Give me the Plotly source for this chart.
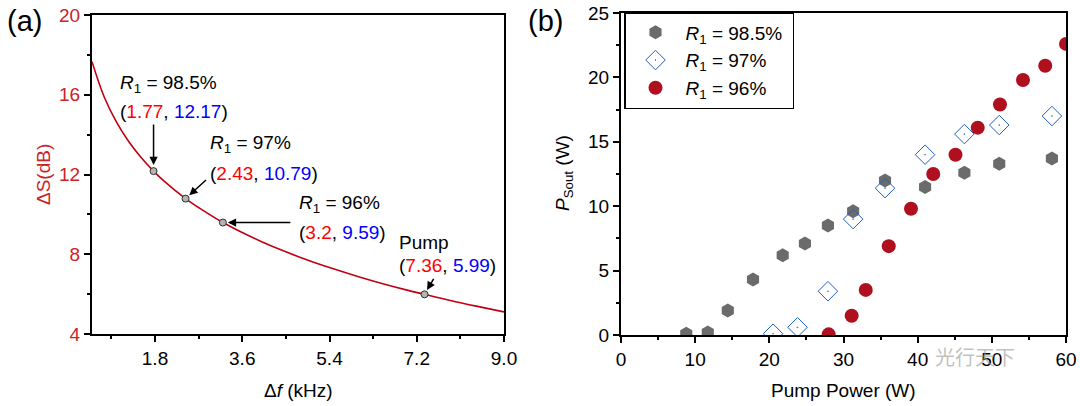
import plotly.graph_objects as go

# ---------------- Panel (a) data ----------------
df_curve = [0.5, 0.75, 1.0, 1.25, 1.5, 1.77, 2.0, 2.43, 2.75, 3.2, 3.6, 4.0, 4.5,
            5.0, 5.4, 6.0, 6.5, 7.0, 7.36, 8.0, 8.5, 9.0]
ds_curve = [17.66, 15.90, 14.65, 13.68, 12.89, 12.17, 11.64, 10.79, 10.26, 9.59, 9.09,
            8.63, 8.12, 7.66, 7.33, 6.87, 6.52, 6.20, 5.99, 5.62, 5.36, 5.11]
pt_df = [1.77, 2.43, 3.2, 7.36]
pt_ds = [12.17, 10.79, 9.59, 5.99]
pt_names = ["<i>R</i><sub>1</sub> = 98.5%", "<i>R</i><sub>1</sub> = 97%",
            "<i>R</i><sub>1</sub> = 96%", "Pump"]

# ---------------- Panel (b) data ----------------
p985_x = [8.8, 11.7, 14.4, 17.8, 21.8, 24.8, 27.9, 31.3, 35.6, 41.0, 46.3, 51.0, 58.1]
p985_y = [0.1, 0.2, 1.9, 4.3, 6.2, 7.1, 8.5, 9.6, 12.0, 11.5, 12.6, 13.3, 13.7]
p97_x = [20.5, 23.8, 27.9, 31.3, 35.6, 41.0, 46.3, 51.0, 58.1]
p97_y = [0.1, 0.6, 3.4, 9.0, 11.4, 14.0, 15.6, 16.3, 17.0]
p96_x = [28.0, 31.1, 33.0, 36.1, 39.1, 42.1, 45.1, 48.1, 51.1, 54.2, 57.2, 60.0]
p96_y = [0.05, 1.5, 3.5, 6.9, 9.8, 12.5, 14.0, 16.1, 17.9, 19.8, 20.9, 22.6]
legend_names = ["<i>R</i><sub>1</sub> = 98.5%\u00a0", "<i>R</i><sub>1</sub> = 97%",
                "<i>R</i><sub>1</sub> = 96%"]

W, H = 1080, 406
FONT = "Liberation Sans, Arial, sans-serif"
AXRED = "#cc2229"

def px(xp):
    return xp / W

def py(yp):
    return 1 - yp / H

fig = go.Figure()

# curve
fig.add_trace(go.Scatter(x=df_curve, y=ds_curve, mode="lines", line=dict(color="#c00010", width=1.6, shape="spline"),
                         xaxis="x", yaxis="y", showlegend=False))
fig.add_trace(go.Scatter(x=pt_df, y=pt_ds, mode="markers",
                         marker=dict(size=7, color="#b4b4b4", line=dict(color="#303030", width=1)),
                         xaxis="x", yaxis="y", showlegend=False))

# right panel
fig.add_trace(go.Scatter(x=p985_x, y=p985_y, mode="markers", name=legend_names[0],
                         marker=dict(symbol="hexagon", size=14, color="#6b6b6b"),
                         xaxis="x2", yaxis="y2", cliponaxis=True))
fig.add_trace(go.Scatter(x=p97_x, y=p97_y, mode="markers", name=legend_names[1],
                         marker=dict(symbol="diamond-open-dot", size=15, color="#1f5fbf",
                                     line=dict(width=1, color="#1f5fbf")),
                         xaxis="x2", yaxis="y2", cliponaxis=True))
fig.add_trace(go.Scatter(x=p96_x, y=p96_y, mode="markers", name=legend_names[2],
                         marker=dict(symbol="circle", size=14, color="#b0101e"),
                         xaxis="x2", yaxis="y2", cliponaxis=True))

axis_common = dict(showline=True, linecolor="black", linewidth=2, mirror=True,
                   ticks="outside", tickwidth=2, tickcolor="black", ticklen=6,
                   showgrid=False, zeroline=False, automargin=False,
                   ticklabeloverflow="allow")

fig.update_layout(
    width=W, height=H, margin=dict(l=0, r=0, t=0, b=0, autoexpand=False),
    paper_bgcolor="white", plot_bgcolor="white",
    font=dict(family=FONT, size=19, color="black"),
    xaxis=dict(domain=[px(92), px(504)], range=[0.5, 9.0], tickvals=[1.8, 3.6, 5.4, 7.2, 9.0],
               ticktext=["1.8", "3.6", "5.4", "7.2", "9.0"],
               minor=dict(dtick=0.9, tick0=0, ticks="outside", ticklen=3, tickwidth=1.5, tickcolor="black"),
               anchor="y", **axis_common),
    yaxis=dict(domain=[py(334), py(15)], range=[4, 20], dtick=4, tick0=0,
               tickfont=dict(color=AXRED),
               minor=dict(dtick=2, tick0=0, ticks="outside", ticklen=3, tickwidth=1.5, tickcolor="black"),
               anchor="x", **axis_common),
    xaxis2=dict(domain=[px(621), px(1066)], range=[0, 60], dtick=10, tick0=0,
                minor=dict(dtick=5, tick0=0, ticks="outside", ticklen=3, tickwidth=1.5, tickcolor="black"),
                anchor="y2", **axis_common),
    yaxis2=dict(domain=[py(335), py(13)], range=[0, 25], dtick=5, tick0=0,
                minor=dict(dtick=2.5, tick0=0, ticks="outside", ticklen=3, tickwidth=1.5, tickcolor="black"),
                anchor="x2", **axis_common),
    legend=dict(x=px(624), y=py(12), xanchor="left", yanchor="top",
                bordercolor="black", borderwidth=1.5, bgcolor="white",
                font=dict(size=19), tracegroupgap=0, itemwidth=50),
)

ann = []
# arrows for panel (a)
arrow_offsets = [(0, -48, 6), (22, -20, 5), (69, 0, 5), (10, -17, 5)]
for (xv, yv), (ax, ay, st) in zip(zip(pt_df, pt_ds), arrow_offsets):
    ann.append(dict(x=xv, y=yv, xref="x", yref="y", ax=ax, ay=ay, text="", showarrow=True,
                    arrowhead=2, arrowsize=1.1, arrowwidth=1.5, arrowcolor="black", standoff=st))

def coord_text(a, b):
    return ("(<span style='color:#ff0000'>%s</span>, <span style='color:#0000ff'>%s</span>)" % (a, b))

labels_pos = [(118, 84, 111), (208, 144, 173), (297, 204, 232), (397, 242, 265)]
coord_strs = [("1.77", "12.17"), ("2.43", "10.79"), ("3.2", "9.59"), ("7.36", "5.99")]
for name, (xl, y1, y2), (a, b) in zip(pt_names, labels_pos, coord_strs):
    ann.append(dict(x=px(xl), y=py(y1), xref="paper", yref="paper", text=name, showarrow=False,
                    xanchor="left", yanchor="middle", font=dict(size=19, color="black")))
    ann.append(dict(x=px(xl), y=py(y2), xref="paper", yref="paper", text=coord_text(a, b), showarrow=False,
                    xanchor="left", yanchor="middle", font=dict(size=19, color="black")))

def ctext(xp, yp, text, size=19, color="black", angle=0, family=None):
    f = dict(size=size, color=color)
    if family:
        f["family"] = family
    return dict(x=px(xp), y=py(yp), xref="paper", yref="paper", text=text, textangle=angle,
                showarrow=False, xanchor="center", yanchor="middle", font=f)

# axis titles
ann.append(ctext(43, 175, "ΔS(dB)", color=AXRED, angle=-90))
ann.append(ctext(298, 390, "Δ<i>f</i> (kHz)"))
ann.append(ctext(564, 173, "<i>P</i><sub>Sout</sub> (W)", angle=-90))
ann.append(ctext(843, 390, "Pump Power (W)"))
# panel labels
ann.append(ctext(24, 21, "(a)", size=29))
ann.append(ctext(545, 21, "(b)", size=29))
# watermark
ann.append(ctext(975, 356, "光行天下", size=20, color="rgba(150,150,150,0.6)", family="Noto Sans CJK SC"))

fig.update_layout(annotations=ann)
fig.write_html("out.html", config={"displayModeBar": False},
               post_script="document.body.style.margin='0px';")
